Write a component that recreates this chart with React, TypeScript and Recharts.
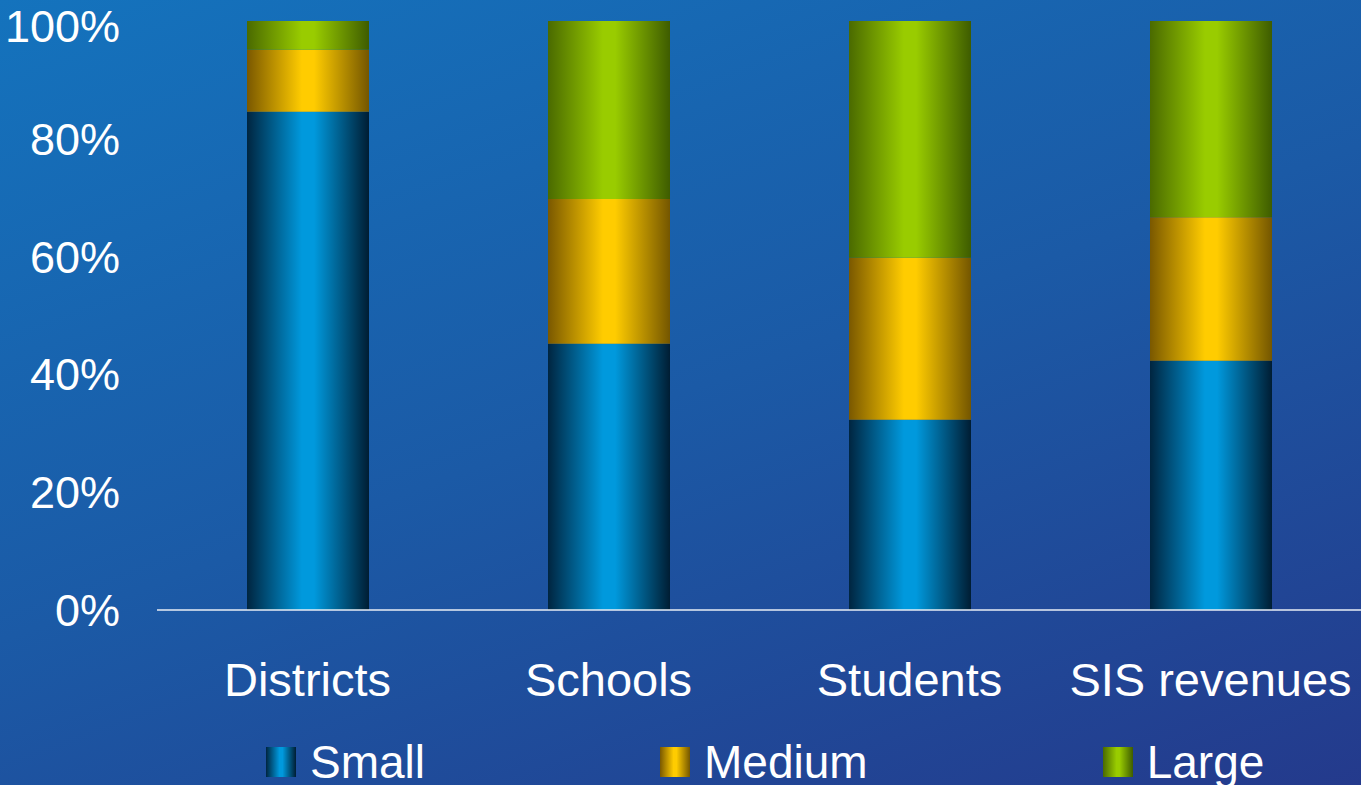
import { BarChart, Bar, XAxis, YAxis, Legend } from "recharts"

// share of each segment (percent)
const categories = ["Districts", "Schools", "Students", "SIS revenues"]
const small = [84.6, 45.2, 32.3, 42.3]
const medium = [10.5, 24.6, 27.5, 24.4]
const large = [4.9, 30.2, 40.2, 33.3]
const yTicks = [0, 20, 40, 60, 80, 100]

const series = [
  { key: "small", name: "Small", dark: "#002540", bright: "#0099dd", darkR: "#001d33" },
  { key: "medium", name: "Medium", dark: "#7a5800", bright: "#ffcc00", darkR: "#745600" },
  { key: "large", name: "Large", dark: "#4a6a00", bright: "#99cc00", darkR: "#3e5c00" },
]

const data = categories.map((name, i) => ({
  name,
  small: small[i],
  medium: medium[i],
  large: large[i],
}))

const font = "'Liberation Sans', Arial, sans-serif"

const LegendContent = () => (
  <div
    style={{
      display: "flex",
      alignItems: "center",
      height: 55,
      paddingTop: 8,
      paddingLeft: 266,
      boxSizing: "border-box",
      gap: 235,
      fontFamily: font,
      fontSize: 46,
      color: "#ffffff",
    }}
  >
    {series.map((s) => (
      <div key={s.key} style={{ display: "flex", alignItems: "center" }}>
        <div
          style={{
            width: 30,
            height: 30,
            marginRight: 14,
            background: `linear-gradient(to right, ${s.dark}, ${s.bright} 45%, ${s.bright} 55%, ${s.darkR})`,
          }}
        />
        <span style={{ lineHeight: "40px" }}>{s.name}</span>
      </div>
    ))}
  </div>
)

export default function App() {
  return (
    <div
      style={{
        position: "absolute",
        left: 0,
        top: 0,
        width: 1361,
        height: 785,
        background: "linear-gradient(160deg, #1473bd 0%, #1b5aa6 50%, #243a8c 100%)",
      }}
    >
      <BarChart
        width={1361}
        height={785}
        data={data}
        margin={{ top: 21, right: 0, left: 0, bottom: 0 }}
        barSize={122}
      >
        <defs>
          {series.map((s) => (
            <linearGradient key={s.key} id={`grad-${s.key}`} x1="0" y1="0" x2="1" y2="0">
              <stop offset="0%" stopColor={s.dark} />
              <stop offset="45%" stopColor={s.bright} />
              <stop offset="55%" stopColor={s.bright} />
              <stop offset="100%" stopColor={s.darkR} />
            </linearGradient>
          ))}
        </defs>
        <XAxis
          dataKey="name"
          height={120}
          tickLine={false}
          tickSize={0}
          tickMargin={53}
          axisLine={{ stroke: "#e8eef6", strokeWidth: 1.5 }}
          tick={{ fill: "#ffffff", fontSize: 47, fontFamily: font }}
          interval={0}
        />
        <YAxis
          width={157}
          domain={[0, 100]}
          ticks={yTicks}
          tickFormatter={(v) => `${v}%`}
          axisLine={false}
          tickLine={false}
          tickSize={0}
          tickMargin={37}
          tick={{ fill: "#ffffff", fontSize: 45, fontFamily: font }}
        />
        <Legend verticalAlign="bottom" height={55} content={<LegendContent />} />
        {series.map((s) => (
          <Bar
            key={s.key}
            dataKey={s.key}
            name={s.name}
            stackId="a"
            fill={`url(#grad-${s.key})`}
            isAnimationActive={false}
          />
        ))}
      </BarChart>
    </div>
  )
}
